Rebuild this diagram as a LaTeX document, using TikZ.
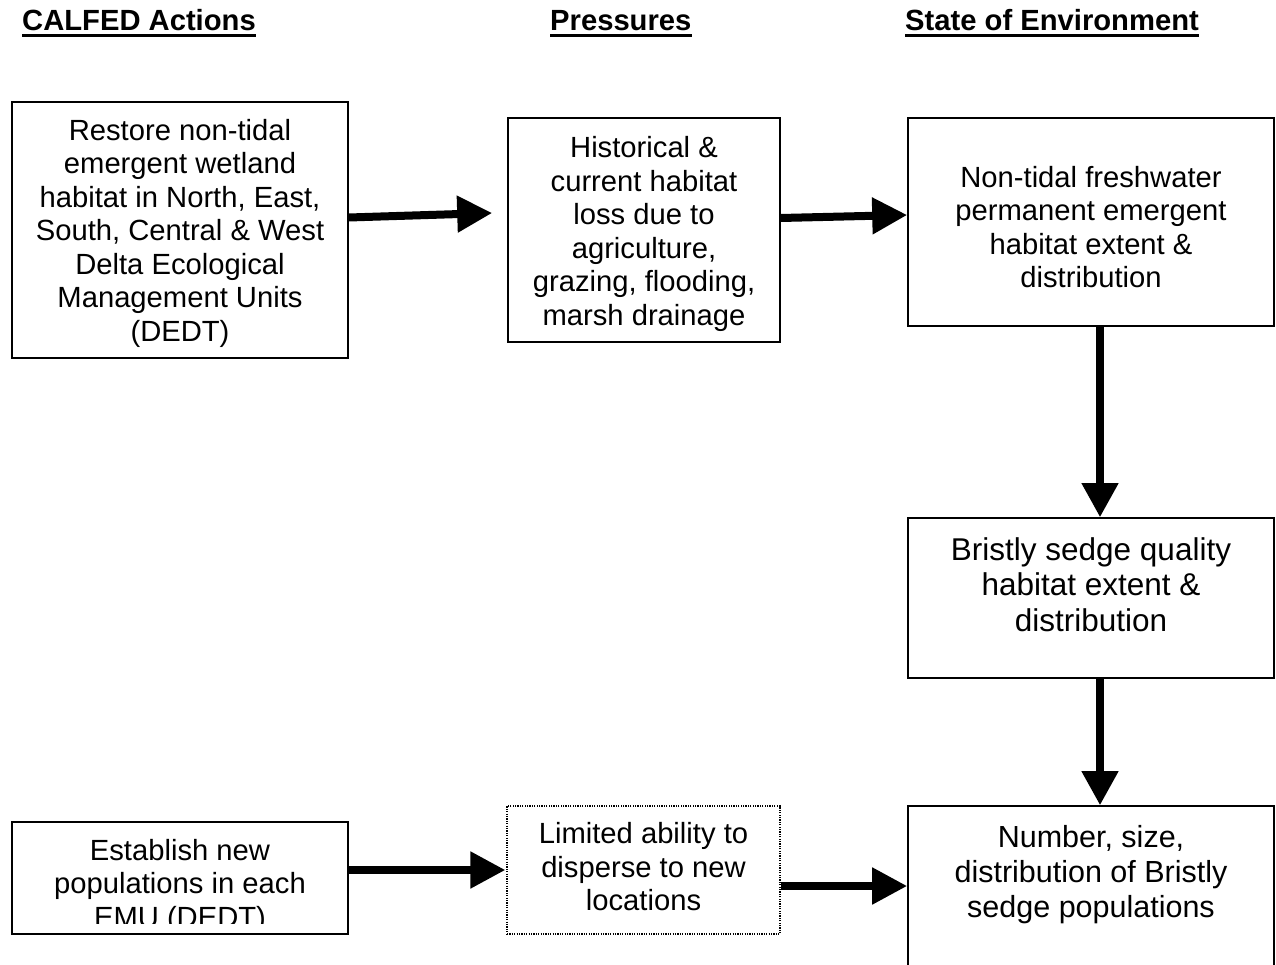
\documentclass[tikz,border=0pt]{standalone}
\usepackage{fontspec}
\setmainfont{Liberation Sans}
\usetikzlibrary{arrows.meta}
\begin{document}
\begin{tikzpicture}[x=1pt,y=-1pt,
  box/.style={draw,line width=1.6pt,rectangle,inner sep=0pt},
  dotbox/.style={draw,line width=1.2pt,dash pattern=on 1.2pt off 1.2pt,rectangle,inner sep=0pt},
  body/.style={align=center,inner sep=0pt,anchor=north,font=\fontsize{29.2}{33.5}\selectfont},
  bigbody/.style={body,font=\fontsize{31.5}{35.5}\selectfont},
  midbody/.style={body,font=\fontsize{30.5}{35}\selectfont},
  head/.style={anchor=base west,inner sep=0pt,font=\fontsize{29.2}{33.5}\selectfont\bfseries},
  uline/.style={line width=3.8pt},
  flow/.style={line width=8pt,-{Triangle[length=35pt,width=35pt]}},
  vflow/.style={line width=7.5pt,-{Triangle[length=34pt,width=35pt]}}]
\useasboundingbox (0,0) rectangle (1276,965);
\clip (0,0) rectangle (1276,965);

% column headings
\node[head] (h1) at (22,31) {CALFED Actions};
\node[head] (h2) at (550,31) {Pressures};
\node[head] (h3) at (905,31) {State of Environment};
\foreach \h in {h1,h2,h3}
  \draw[uline] ([yshift=-4.5pt]\h.base west) -- ([yshift=-4.5pt]\h.base east);

% boxes
\node[box,minimum width=336pt,minimum height=256pt] (A) at (180,230) {};
\node[box,minimum width=272pt,minimum height=224pt] (B) at (644,230) {};
\node[box,minimum width=366pt,minimum height=208pt] (C) at (1091,222) {};
\node[box,minimum width=366pt,minimum height=160pt] (D) at (1091,598) {};
\node[box,minimum width=366pt,minimum height=184pt] (E) at (1091,898) {};
\node[box,minimum width=336pt,minimum height=112pt] (F) at (180,878) {};
\node[dotbox,minimum width=273pt,minimum height=128pt] (G) at (643.5,870) {};

% box texts
\node[body] (tA) at (180,118.7) {Restore non-tidal\\emergent wetland\\habitat in North, East,\\South, Central \& West\\Delta Ecological\\Management Units\\(DEDT)};
\node[body] (tB) at (644,136.2) {Historical \&\\current habitat\\loss due to\\agriculture,\\grazing, flooding,\\marsh drainage};
\node[body] (tC) at (1091,165.7) {Non-tidal freshwater\\permanent emergent\\habitat extent \&\\distribution};
\node[bigbody] (tD) at (1091,537) {Bristly sedge quality\\habitat extent \&\\distribution};
\node[midbody] (tE) at (1091,824.7) {Number, size,\\distribution of Bristly\\sedge populations};
\begin{scope}
  \clip (12,822) rectangle (348,923);
  \node[body] (tF) at (180,838.7) {Establish new\\populations in each\\EMU (DEDT)};
\end{scope}
\node[body] (tG) at (643.5,822.2) {Limited ability to\\disperse to new\\locations};

% connectors
\draw[flow] ([yshift=12.5pt]A.east) -- ([xshift=-15pt,yshift=17pt]B.west);
\draw[flow] ([yshift=12pt]B.east) -- ([yshift=7pt]C.west);
\draw[vflow] ([xshift=9pt]C.south) -- ([xshift=9pt]D.north);
\draw[vflow] ([xshift=9pt]D.south) -- ([xshift=9pt]E.north);
\draw[flow] ([yshift=8pt]F.east) -- ([xshift=-1pt]G.west);
\draw[flow] ([yshift=-16pt]G.east) -- ([yshift=12pt]E.west);
\end{tikzpicture}
\end{document}
